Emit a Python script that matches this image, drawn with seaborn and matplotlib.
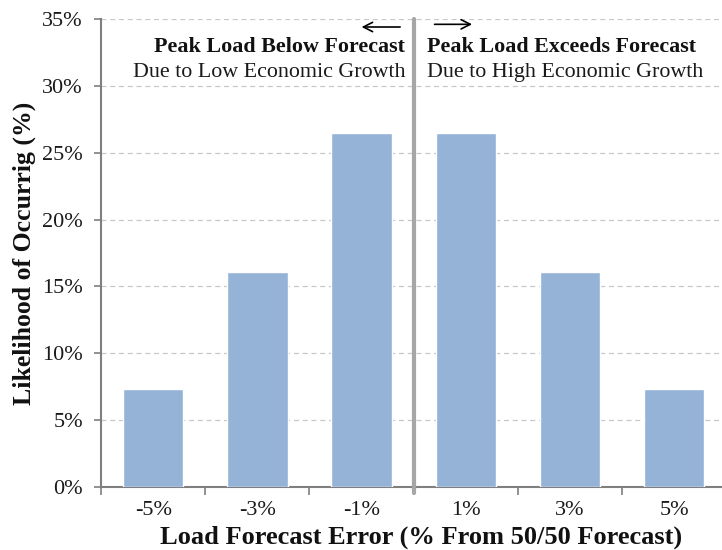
import matplotlib
matplotlib.use("Agg")
import matplotlib.pyplot as plt
import seaborn as sns
import pandas as pd
from matplotlib.ticker import FixedLocator, PercentFormatter

categories = ["-5%", "-3%", "-1%", "1%", "3%", "5%"]
likelihood = [7.3, 16.1, 26.5, 26.5, 16.1, 7.3]
yticks = [0, 5, 10, 15, 20, 25, 30, 35]

df = pd.DataFrame({"error": categories, "likelihood": likelihood})

sns.set_theme(style="white")
plt.rcParams["font.family"] = ["Liberation Serif", "DejaVu Serif"]

fig = plt.figure(figsize=(7.22, 5.5), dpi=100)
ax = fig.add_axes([0.14, 0.1145, 0.866, 0.851])

sns.barplot(data=df, x="error", y="likelihood", order=categories, color="#95B3D7",
            saturation=1, width=0.58, ax=ax, zorder=3)

ax.set_xlim(-0.5, 5.5)
ax.set_ylim(0, 35)
ax.set_yticks(yticks)
ax.yaxis.set_major_formatter(PercentFormatter(decimals=0))
ax.grid(axis="y", color="#c8c8c8", linestyle=(0, (4, 3)), linewidth=0.9, zorder=0)
ax.set_axisbelow(True)

for s in ["top", "right"]:
    ax.spines[s].set_visible(False)
for s in ["left", "bottom"]:
    ax.spines[s].set_color("#7f7f7f")
    ax.spines[s].set_linewidth(1.5)

ax.tick_params(axis="x", which="major", length=0, pad=10, labelsize=16, colors="#1a1a1a")
ax.xaxis.set_minor_locator(FixedLocator([i - 0.5 for i in range(len(categories) + 1)]))
ax.tick_params(axis="x", which="minor", length=6, width=1.2, color="#7f7f7f", direction="out", bottom=True)
ax.tick_params(axis="y", length=5, width=1.2, color="#7f7f7f", direction="out", left=True,
               labelsize=16, pad=8, labelcolor="#1a1a1a")

ax.axvline(2.5, color="#a6a6a6", linewidth=3, zorder=4, ymin=-0.013, clip_on=False)

ax.set_xlabel("Load Forecast Error (% From 50/50 Forecast)", fontsize=19, fontweight="bold", color="#111111")
ax.set_ylabel("Likelihood of Occurrig (%)", fontsize=18.5, fontweight="bold", color="#111111")
ax.xaxis.set_label_coords(0.512, -0.083)
ax.yaxis.set_label_coords(-0.104, 0.5)

ax.text(2.42, 32.9, "Peak Load Below Forecast", ha="right", va="center", fontsize=15.8, fontweight="bold", color="#111111")
ax.text(2.42, 31.0, "Due to Low Economic Growth", ha="right", va="center", fontsize=15.8, color="#1a1a1a")
ax.text(2.63, 32.9, "Peak Load Exceeds Forecast", ha="left", va="center", fontsize=15.8, fontweight="bold", color="#111111")
ax.text(2.63, 31.0, "Due to High Economic Growth", ha="left", va="center", fontsize=15.8, color="#1a1a1a")

arrow = dict(arrowstyle="->,head_length=0.55,head_width=0.28", color="black", lw=1.2, shrinkA=0, shrinkB=0)
ax.annotate("", xy=(2.0, 34.4), xytext=(2.37, 34.4), arrowprops=arrow)
ax.annotate("", xy=(3.06, 34.6), xytext=(2.70, 34.6), arrowprops=arrow)

fig.savefig("out.png", dpi=100)
